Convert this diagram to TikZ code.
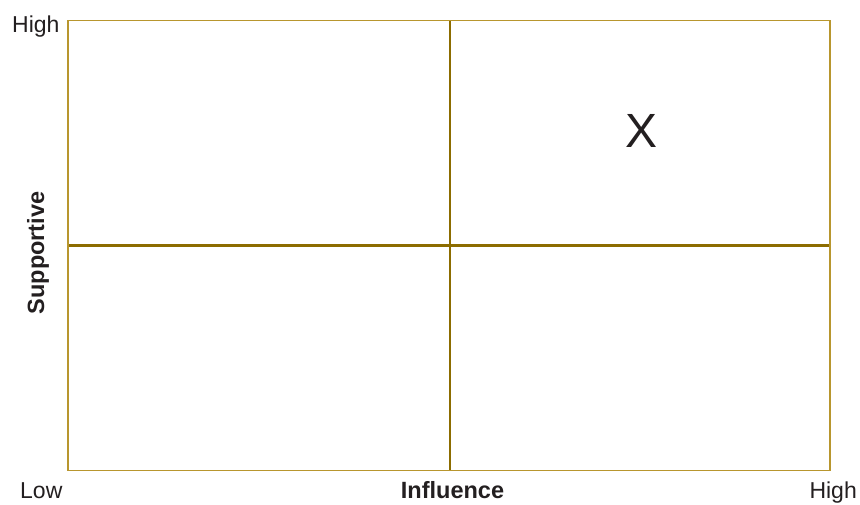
\documentclass[tikz,border=0pt]{standalone}
\usepackage{fontspec}
\setmainfont{Liberation Sans}
\definecolor{framegold}{RGB}{184,150,46}
\definecolor{divgold}{RGB}{140,108,0}
\definecolor{txt}{RGB}{35,31,32}
\begin{document}
\begin{tikzpicture}[x=1pt,y=-1pt,
  lbl/.style={inner sep=0pt,text=txt,font=\fontsize{23}{23}\selectfont},
  blbl/.style={lbl,font=\fontsize{23.5}{23.5}\selectfont\bfseries},
  framebox/.style={draw=framegold,line width=1.4pt},
  divider/.style={draw=divgold,line width=2.4pt}]
\useasboundingbox (0,0) rectangle (860,504);
\fill[white] (0,0) rectangle (860,504);
\coordinate (tl) at (68,20.5);
\coordinate (br) at (830,470.5);
\coordinate (vt) at (450,20.5);
\coordinate (vb) at (450,470.5);
\coordinate (hl) at (68,245.5);
\coordinate (hr) at (830,245.5);
\draw[divider] (vt) -- (vb);
\draw[divider] (hl) -- (hr);
\draw[framebox] (tl) rectangle (br);
\node[lbl,anchor=base west] (hightop) at (12,32) {High};
\node[lbl,anchor=base west] (low) at (20,498) {Low};
\node[blbl,anchor=base] (infl) at (452.5,498) {Influence};
\node[lbl,anchor=base east] (highright) at (857,498) {High};
\node[blbl,anchor=base,rotate=90] (supp) at (44,253) {Supportive};
\node[lbl,font=\fontsize{48}{48}\selectfont] (x) at (642,130.5) {X};
\end{tikzpicture}
\end{document}
